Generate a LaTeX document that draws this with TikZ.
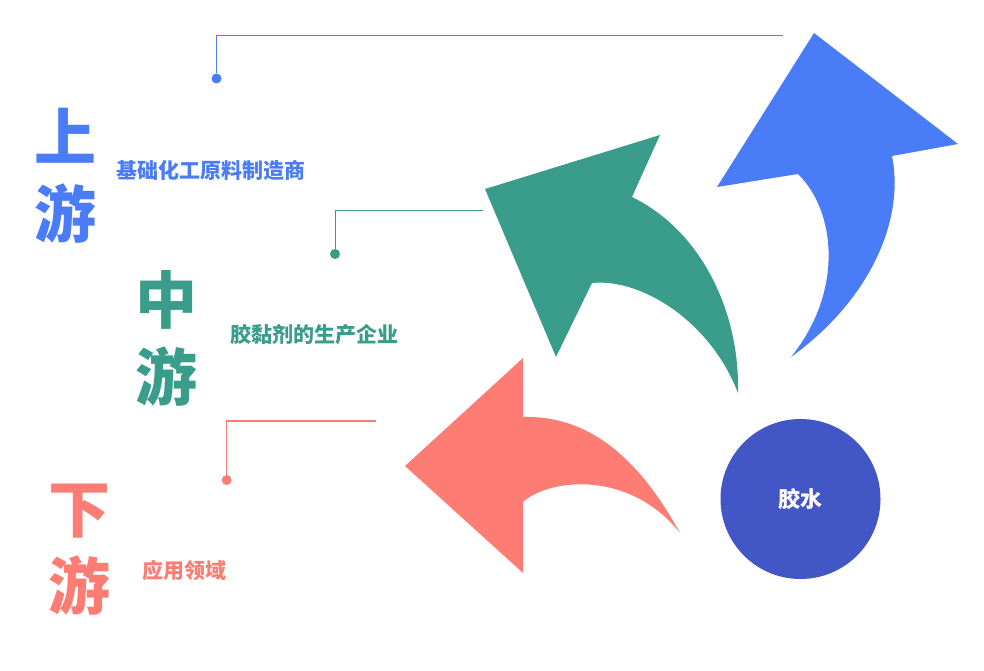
\documentclass[tikz,border=0pt]{standalone}
\usepackage{fontspec}
\newfontfamily\cjk{Noto Sans CJK SC}
\usepackage{tikz}
\usetikzlibrary{positioning}

\definecolor{upblue}{HTML}{4A7CF7}
\definecolor{midgreen}{HTML}{3A9D8C}
\definecolor{downred}{HTML}{FD7C74}
\definecolor{glueblue}{HTML}{4356C5}

\begin{document}
\begin{tikzpicture}[x=1pt,y=-1pt,
		title/.style={inner sep=0pt,align=center,font=\cjk\bfseries\fontsize{62}{77}\selectfont},
		subtitle/.style={inner sep=0pt,font=\cjk\bfseries\fontsize{21}{21}\selectfont},
		dot/.style={circle,fill,inner sep=0pt,minimum size=10pt}]
		\useasboundingbox (0,0) rectangle (984,671);
		% big arrows
		\fill[upblue] (892,156) -- (958,144) -- (814,33) -- (717,187) -- (798,174)
			.. controls (835,210) and (845,290) .. (791,357)
			.. controls (870,300) and (905,220) .. cycle;
		\fill[midgreen] (632,197) -- (660,135) -- (485,189) -- (556,357) -- (592,283)
			.. controls (640,278) and (710,320) .. (738,393)
			.. controls (740,310) and (700,230) .. cycle;
		\fill[downred] (523,417) -- (523,358) -- (405,466) -- (523,573) -- (523,502)
			.. controls (550,478) and (630,470) .. (680,533)
			.. controls (640,460) and (590,415) .. cycle;
		\draw
		node[circle,fill=glueblue,minimum size=160pt,text=white,font=\cjk\bfseries\fontsize{22}{22}\selectfont] (glue) at (800.5,499){胶水}
		node[title,text=upblue] (up_title) at (65,176){上\\游}
		node[subtitle,text=upblue] (up_text) at (211,170){基础化工原料制造商}
		node[title,text=midgreen] (mid_title) at (166,338){中\\游}
		node[subtitle,text=midgreen] (mid_text) at (314,335){胶黏剂的生产企业}
		node[title,text=downred] (down_title) at (79,550){下\\游}
		node[subtitle,text=downred] (down_text) at (184.5,570){应用领域};
		% leader lines
		\node[dot,upblue] (up_dot) at (216.5,78.5) {};
		\coordinate (up_end) at (783,36);
		\draw[upblue,line width=1pt] (up_dot) |- (up_end);
		\node[dot,midgreen] (mid_dot) at (335,254) {};
		\coordinate (mid_end) at (483,210);
		\draw[midgreen,line width=1pt] (mid_dot) |- (mid_end);
		\node[dot,downred] (down_dot) at (226.7,480) {};
		\coordinate (down_end) at (376,421);
		\draw[downred,line width=1.5pt] (down_dot) |- (down_end);
\end{tikzpicture}
\end{document}
